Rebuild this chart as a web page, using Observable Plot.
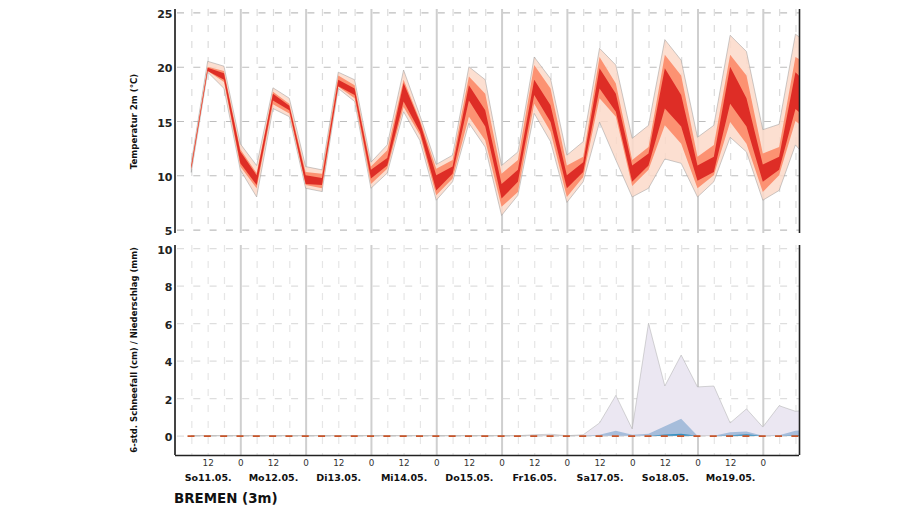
<!DOCTYPE html>
<html>
<head>
<meta charset="utf-8">
<script src="https://cdn.jsdelivr.net/npm/d3@7"></script>
<script src="https://cdn.jsdelivr.net/npm/@observablehq/plot@0.6"></script>
<style>
html,body{margin:0;padding:0;background:#fff;overflow:hidden;width:905px;height:509px}
svg{display:block}
#title{position:absolute;left:174px;top:490px;font:bold 13.4px "DejaVu Sans";color:#111;line-height:18px}
</style>
</head>
<body>
<div id="top"></div>
<div id="bottom"></div>
<div id="title">BREMEN (3m)</div>
<script>
const hours = [6,12,18,24, 30,36,42,48, 54,60,66,72, 78,84,90,96, 102,108,114,120, 126,132,138,144, 150,156,162,168, 174,180,186,192, 198,204,210,216, 222,228,234];
const tempMin = [10.3,19.5,18.0,10.5, 8.0,16.15,15.4,8.8, 8.5,18.0,16.8,8.8, 10.2,15.85,13.2,7.7, 9.4,14.8,12.6,6.3, 8.15,15.7,13.1,7.5, 9.4,14.9,11.4,8.0, 8.8,11.5,11.1,8.0, 9.4,13.5,12.15,7.7, 8.6,12.8,11.0];
const tempP10 = [10.5,19.6,18.6,10.8, 8.8,16.55,15.7,9.1, 8.8,18.15,17.1,9.2, 10.6,16.3,13.7,8.15, 9.7,15.4,13.2,7.1, 8.45,16.6,14.0,8.0, 9.85,17.1,15.4,9.0, 10.5,14.6,12.9,8.8, 10.0,14.9,12.9,8.45, 10.0,15.0,13.8];
const tempQ1 = [10.6,19.6,18.8,11.1, 9.1,16.9,16.0,9.2, 9.1,18.2,17.4,9.7, 10.9,16.8,14.0,8.6, 10.15,16.9,14.5,7.85, 9.4,17.4,14.9,8.8, 10.3,18.0,15.85,9.4, 10.9,16.15,14.5,9.5, 10.3,16.6,14.5,9.4, 10.5,16.1,14.8];
const tempQ3 = [10.9,19.9,19.4,12.2, 10.0,17.5,16.4,10.0, 9.75,18.8,18.0,10.5, 11.6,18.5,14.9,10.0, 10.8,18.3,16.0,9.2, 10.5,18.8,16.45,10.0, 11.2,19.85,17.5,10.9, 12.0,19.85,17.4,10.9, 11.7,20.0,17.1,11.0, 11.7,19.5,18.0];
const tempP90 = [11.0,20.0,19.6,12.4, 10.2,17.7,16.6,10.3, 10.15,19.2,18.3,10.8, 12.3,18.8,15.1,10.6, 11.4,19.1,17.5,10.15, 11.4,20.15,18.0,10.9, 11.7,20.9,18.45,11.4, 12.6,21.1,19.2,11.7, 12.8,21.1,19.2,12.0, 12.6,20.9,20.0];
const tempMax = [11.2,20.5,20.05,12.9, 10.9,18.06,17.1,10.8, 10.5,19.5,18.8,11.2, 12.8,19.7,15.5,11.0, 11.85,20.0,18.8,10.9, 12.15,20.9,18.9,11.85, 13.1,21.7,20.15,13.4, 14.6,22.5,20.6,13.5, 14.6,22.9,21.4,14.2, 14.7,23.0,21.9];

const snowMax = [0,0,0,0, 0,0,0,0, 0,0,0,0, 0,0,0,0, 0,0,0,0, 0,0.05,0.08,0, 0.05,0.68,2.15,0.36, 6.0,2.65,4.3,2.6, 2.65,0.68,1.43,0.46, 1.6,1.3,1.4];
const snowMid = [0,0,0,0, 0,0,0,0, 0,0,0,0, 0,0,0,0, 0,0,0,0, 0,0,0,0, 0,0.05,0.27,0.05, 0.1,0.5,0.9,0, 0,0.18,0.22,0, 0.02,0.27,0.3];
const snowLow = [0,0,0,0, 0,0,0,0, 0,0,0,0, 0,0,0,0, 0,0,0,0, 0,0,0,0, 0,0,0,0, 0,0.07,0.1,0, 0,0.03,0.08,0, 0,0.03,0.05];
const precipBase = [0,0,0,0, 0,0,0,0, 0,0,0,0, 0,0,0,0, 0,0,0,0, 0,0,0,0, 0,0,0,0, 0,0,0,0, 0,0,0,0, 0,0,0];

const sixHourTicks = [6,12,18,30,36,42,54,60,66,78,84,90,102,108,114,126,132,138,150,156,162,174,180,186,198,204,210,222,228];
const dayTicks = [24,48,72,96,120,144,168,192,216];
const clockTicks = [12,24,36,48,60,72,84,96,108,120,132,144,156,168,180,192,204,216];
const dayLabels = ["So11.05.","Mo12.05.","Di13.05.","Mi14.05.","Do15.05.","Fr16.05.","Sa17.05.","So18.05.","Mo19.05."];
const dayLabelHours = [12,36,60,84,108,132,156,180,204];
const tempTicks = [5,10,15,20,25];
const precipTicks = [0,2,4,6,8,10];
const zeroLineStart = 4.6;

const font = '"DejaVu Sans"';
const xEnd = 229.3;
const idx = hours.map((_, i) => i);
const band = (lo, hi, opts) => Plot.areaY(idx, {x:i=>hours[i], y1:i=>lo[i], y2:i=>hi[i], clip:true, curve:"linear", ...opts});

function gridMarks(ticks, hStroke, vStroke, dayStroke) {
  return [
    Plot.ruleY(ticks, {stroke:hStroke, strokeWidth:1.2, strokeDasharray:"7,9.3", strokeDashoffset:-2, x1:0, x2:xEnd}),
    Plot.ruleX(sixHourTicks, {stroke:vStroke, strokeWidth:1.2, strokeDasharray:"7,9"}),
    Plot.ruleX(dayTicks, {stroke:dayStroke, strokeWidth:2})
  ];
}
function frameMarks() {
  return [
    Plot.ruleX([0], {stroke:"#444", strokeWidth:2, dx:-0.5}),
    Plot.ruleX([xEnd], {stroke:"#222", strokeWidth:1.6})
  ];
}

const topPlot = Plot.plot({
  width:905, height:240, marginLeft:175, marginRight:106, marginTop:9, marginBottom:7,
  style:{fontFamily:font, background:"transparent"},
  x:{domain:[0,xEnd], axis:null},
  y:{domain:[4.68,25.32], axis:null},
  marks:[
    ...gridMarks(tempTicks, "#bdbdbd", "#dcdcdc", "#cfcfcf"),
    band(tempMin, tempMax, {fill:"#fcd9c9", fillOpacity:0.85, stroke:"#999", strokeWidth:0.5}),
    band(tempP10, tempP90, {fill:"#fc9272"}),
    band(tempQ1, tempQ3, {fill:"#de2d26"}),
    ...frameMarks(),
    Plot.axisY(tempTicks, {anchor:"left", label:null, tickSize:0, tickPadding:3, dy:1.5, fontSize:11, fontWeight:"bold", fill:"#222"}),
    Plot.text(["Temperatur 2m (°C)"], {x:0, y:15, rotate:-90, dx:-41, fontSize:8.6, fontWeight:"bold", fill:"#111", textAnchor:"middle"})
  ]
});

const bottomPlot = Plot.plot({
  width:905, height:250, marginLeft:175, marginRight:106, marginTop:5, marginBottom:35,
  style:{fontFamily:font, background:"transparent"},
  x:{domain:[0,xEnd], axis:null},
  y:{domain:[-1.03,10.17], axis:null},
  marks:[
    ...gridMarks(precipTicks, "#dedede", "#e6e6e6", "#cfcfcf"),
    band(precipBase, snowMax, {fill:"#ebe7f2", stroke:"#aaa", strokeWidth:0.5}),
    band(precipBase, snowMid, {fill:"#a6bddb"}),
    band(precipBase, snowLow, {fill:"#3690c0"}),
    Plot.ruleY([0], {x1:zeroLineStart, x2:xEnd, stroke:"#c8552a", strokeWidth:1.8, strokeDasharray:"7,9.32"}),
    Plot.ruleY([-1.03], {stroke:"#222", strokeWidth:1.6, x1:0, x2:xEnd}),
    ...frameMarks(),
    Plot.axisY(precipTicks, {anchor:"left", label:null, tickSize:0, tickPadding:3, dy:1.5, fontSize:11, fontWeight:"bold", fill:"#222"}),
    Plot.text(["6-std. Schneefall (cm) / Niederschlag (mm)"], {x:0, y:4.6, rotate:-90, dx:-41, fontSize:8.5, fontWeight:"bold", fill:"#111", textAnchor:"middle"}),
    Plot.text(clockTicks, {x:d=>d, y:-1.03, dy:8, text:d=>String(d%24===0?0:12), fontSize:8.8, fill:"#333"}),
    Plot.text(dayLabels, {x:(d,i)=>dayLabelHours[i], y:-1.03, dy:22, fontSize:9.5, fontWeight:"bold", fill:"#111", letterSpacing:0.2})
  ]
});

document.getElementById("top").append(topPlot);
document.getElementById("bottom").append(bottomPlot);
</script>
</body>
</html>
